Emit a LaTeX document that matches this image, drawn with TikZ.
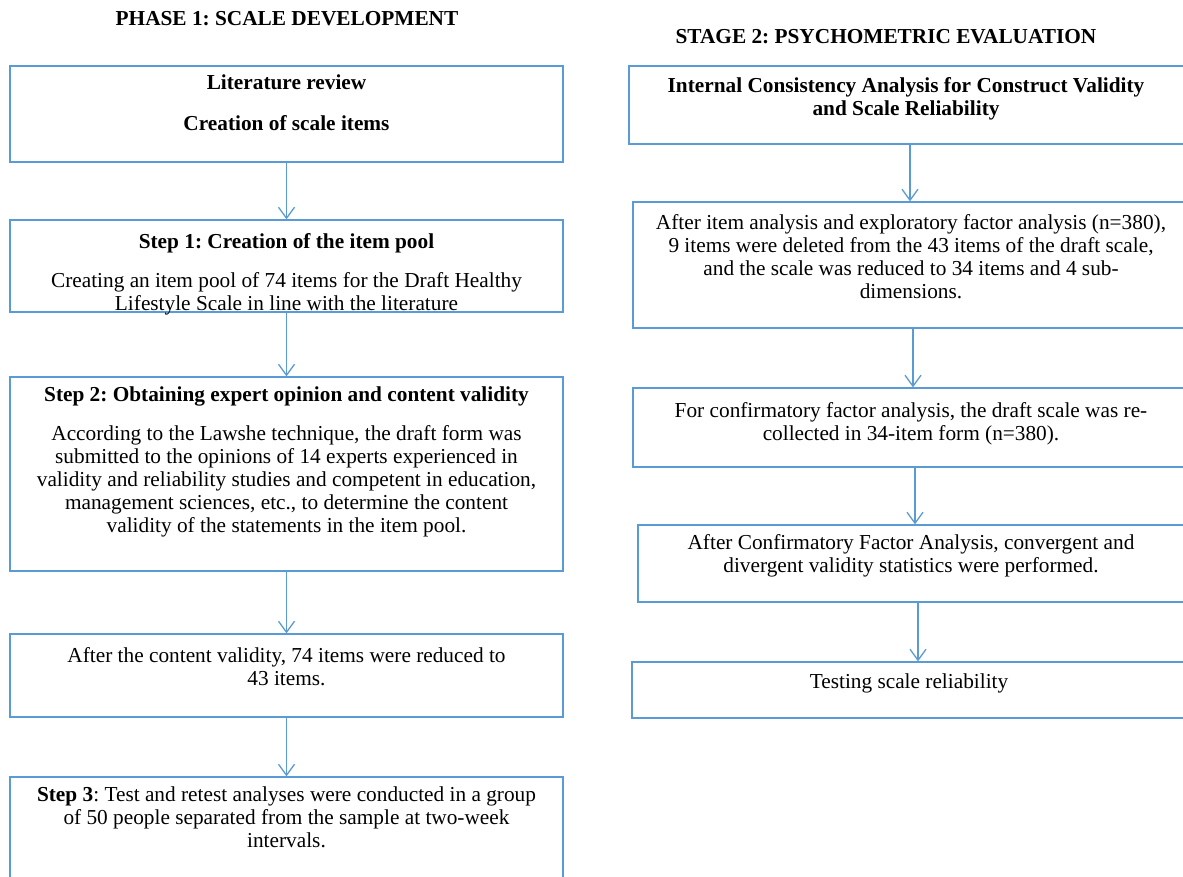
\documentclass[tikz,border=0pt]{standalone}
\usepackage{fontspec}
\setmainfont{Liberation Serif}
\usetikzlibrary{arrows.meta}
\definecolor{boxblue}{RGB}{91,155,213}
\begin{document}
\frenchspacing
\begin{tikzpicture}[x=1pt,y=-1pt,
  box/.style={draw=boxblue, line width=1.3pt, rectangle, inner sep=0pt},
  txt/.style={anchor=north, align=center, inner sep=0pt, font=\fontsize{21.3}{23}\selectfont},
  ttl/.style={anchor=center, inner sep=0pt, font=\fontsize{21.3}{23}\selectfont\bfseries},
  arr/.style={draw=boxblue, line width=1.3pt, -{Straight Barb[length=11pt,width=16pt]}}]
\useasboundingbox (0,0) rectangle (1183,877);
\clip (0,0) rectangle (1183,877);
\fill[white] (0,0) rectangle (1183,877);
% titles
\node[ttl] (title1) at (287,19) {PHASE 1: SCALE DEVELOPMENT};
\node[ttl] (title2) at (886,37) {STAGE 2: PSYCHOMETRIC EVALUATION};
% left boxes
\node[box, minimum width=553pt, minimum height=96pt]  (b1) at (286.5,114) {};
\node[box, minimum width=553pt, minimum height=92pt]  (b2) at (286.5,266) {};
\node[box, minimum width=553pt, minimum height=194pt] (b3) at (286.5,474) {};
\node[box, minimum width=553pt, minimum height=83pt]  (b4) at (286.5,675.5) {};
\node[box, minimum width=553pt, minimum height=130pt] (b5) at (286.5,842) {};
% right boxes
\node[box, minimum width=562pt, minimum height=78pt]  (r1) at (910,105) {};
\node[box, minimum width=560pt, minimum height=126pt] (r2) at (913,265) {};
\node[box, minimum width=564pt, minimum height=79pt]  (r3) at (915,427.5) {};
\node[box, minimum width=560pt, minimum height=77pt]  (r4) at (918,563.5) {};
\node[box, minimum width=572pt, minimum height=56pt]  (r5) at (918,690) {};
% left texts
\node[txt] (t1) at (286.5,75) {\textbf{Literature review}\\[18pt]\textbf{Creation of scale items}};
\node[txt] (t2) at (286.5,233) {\textbf{Step 1: Creation of the item pool}\\[16pt]
  Creating an item pool of 74 items for the Draft Healthy\\
  Lifestyle Scale in line with the literature};
\node[txt] (t3) at (286.5,387) {\textbf{Step 2: Obtaining expert opinion and content validity}\\[16pt]
  According to the Lawshe technique, the draft form was\\
  submitted to the opinions of 14 experts experienced in\\
  validity and reliability studies and competent in education,\\
  management sciences, etc., to determine the content\\
  validity of the statements in the item pool.};
\node[txt] (t4) at (286.5,647) {After the content validity, 74 items were reduced to\\ 43 items.};
\node[txt] (t5) at (286.5,787) {\textbf{Step 3}: Test and retest analyses were conducted in a group\\
  of 50 people separated from the sample at two-week\\ intervals.};
% right texts
\node[txt] (u1) at (906,77) {\textbf{Internal Consistency Analysis for Construct Validity}\\
  \textbf{and Scale Reliability}};
\node[txt] (u2) at (911,214) {After item analysis and exploratory factor analysis (n=380),\\
  9 items were deleted from the 43 items of the draft scale,\\
  and the scale was reduced to 34 items and 4 sub-\\ dimensions.};
\node[txt] (u3) at (911,402) {For confirmatory factor analysis, the draft scale was re-\\
  collected in 34-item form (n=380).};
\node[txt] (u4) at (911,534) {After Confirmatory Factor Analysis, convergent and\\
  divergent validity statistics were performed.};
\node[txt] (u5) at (909,674) {Testing scale reliability};
% arrows
\draw[arr] (b1.south) -- (b2.north);
\draw[arr] (b2.south) -- (b3.north);
\draw[arr] (b3.south) -- (b4.north);
\draw[arr] (b4.south) -- (b5.north);
\draw[arr] (r1.south) -- (r1.south |- r2.north);
\draw[arr] (r2.south) -- (r2.south |- r3.north);
\draw[arr] (r3.south) -- (r3.south |- r4.north);
\draw[arr] (r4.south) -- (r4.south |- r5.north);
\end{tikzpicture}
\end{document}
